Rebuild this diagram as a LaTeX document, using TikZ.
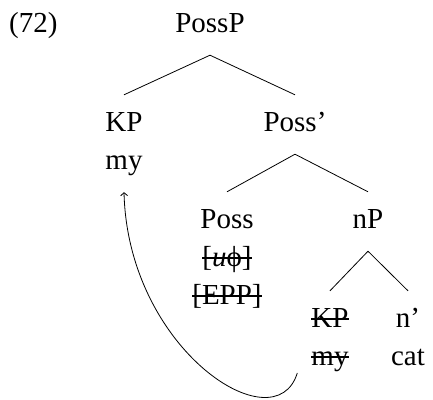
\documentclass[tikz,border=0pt]{standalone}
\usepackage{fontspec}
\setmainfont{Liberation Serif}
\usetikzlibrary{arrows.meta}

\begin{document}
\begin{tikzpicture}[x=1pt,y=-1pt,node distance=38pt,>={Straight Barb[length=3pt,width=7pt]},font=\fontsize{29}{35}\selectfont]
  \tikzstyle{lbl}=[inner xsep=0pt,inner ysep=16pt,text height=20pt,text depth=7pt,anchor=base]
  \tikzstyle{branch}=[line width=0.8pt]
  \tikzstyle{strike}=[line width=1.5pt]
  \useasboundingbox (0,0) rectangle (433,399);
    \node [lbl,anchor=base west] (ex) at (9,32) {(72)};
    \node [lbl] (possp) at (210,32) {PossP};
    \node [lbl] (kp) at (124,131) {KP};
    \node [lbl] (my) [below of=kp] {my};
    \node [lbl] (possbar) at (295,131) {Poss'};
    \node [lbl] (poss) at (227,228) {Poss};
    \node [lbl] (uphi) [below of=poss] {[\textit{u}ϕ]};
    \node [lbl] (epp) [below of=uphi] {[EPP]};
    \node [lbl] (np) at (368,228) {nP};
    \node [lbl] (kptr) at (330,327) {KP};
    \node [lbl] (mytr) [below of=kptr] {my};
    \node [lbl] (nbar) at (408,327) {n'};
    \node [lbl] (catn) [below of=nbar] {cat};
    % struck-out copies
    \foreach \w in {uphi,epp,kptr,mytr}
      \draw [strike] ([yshift=8pt]\w.base west) -- ([yshift=8pt]\w.base east);
    \draw [branch] (possp.south) -- (kp.north);
    \draw [branch] (possp.south) -- (possbar.north);
    \draw [branch] (possbar.south) -- (poss.north);
    \draw [branch] (possbar.south) -- (np.north);
    \draw [branch] (np.south) -- (kptr.north);
    \draw [branch] (np.south) -- (nbar.north);
    \draw [branch,->] ([xshift=-14pt,yshift=-8pt]mytr.base west) .. controls +(-22,72) and +(4,158) .. (my.south);
\end{tikzpicture}
\end{document}
